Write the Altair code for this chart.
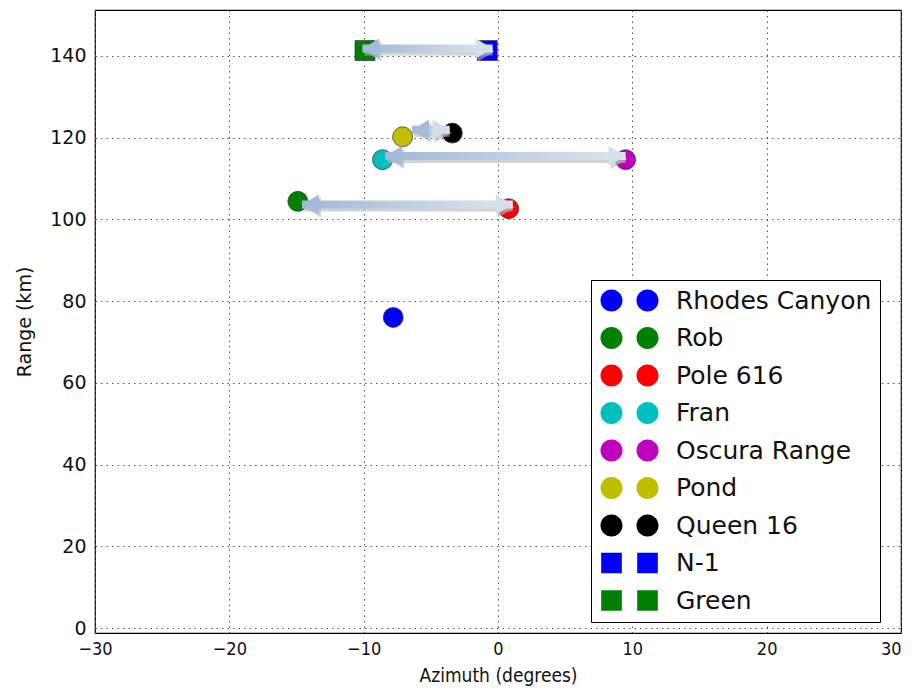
import altair as alt
import pandas as pd

# ---------------- data ----------------
names = ["Rhodes Canyon", "Rob", "Pole 616", "Fran", "Oscura Range",
         "Pond", "Queen 16", "N-1", "Green"]
azimuth = [-7.8, -14.9, 0.8, -8.6, 9.5, -7.1, -3.4, -0.8, -9.9]
range_km = [76.0, 104.4, 102.6, 114.6, 114.6, 120.2, 121.1, 141.3, 141.3]
marker_kind = ["circle"] * 7 + ["square"] * 2
colors = ["#0000ff", "#008000", "#ff0000", "#00bfbf", "#bf00bf",
          "#bfbf00", "#000000", "#0000ff", "#008000"]

arrow_from = ["Green", "Pond", "Fran", "Rob"]
arrow_to = ["N-1", "Queen 16", "Oscura Range", "Pole 616"]
arrow_start = [-10.1, -6.4, -8.4, -14.6]
arrow_end = [-0.4, -3.6, 9.5, 1.1]
arrow_y = [141.8, 121.9, 115.5, 103.6]

x_ticks = [-30, -20, -10, 0, 10, 20, 30]
y_ticks = [0, 20, 40, 60, 80, 100, 120, 140]

# ---------------- tables ----------------
pts = pd.DataFrame({"name": names, "az": azimuth, "rng": range_km,
                    "kind": marker_kind})
arr = pd.DataFrame({"src": arrow_from, "dst": arrow_to, "x1": arrow_start,
                    "x2": arrow_end, "y": arrow_y})

# ---------------- symbol paths (style) ----------------
def circle_path(cx, r):
    k = 0.5523
    return (f"M {cx + r} 0 C {cx + r} {k * r} {cx + k * r} {r} {cx} {r} "
            f"C {cx - k * r} {r} {cx - r} {k * r} {cx - r} 0 "
            f"C {cx - r} {-k * r} {cx - k * r} {-r} {cx} {-r} "
            f"C {cx + k * r} {-r} {cx + r} {-k * r} {cx + r} 0 Z")


def square_path(cx, h):
    return (f"M {cx - h} {-h} L {cx + h} {-h} L {cx + h} {h} "
            f"L {cx - h} {h} Z")


# legend symbol: nominal 24px box (unit = 12px); second marker 36px right
LEG_SIZE = 576
dbl_circle = circle_path(0, 0.917) + " " + circle_path(3.0, 0.917)
dbl_square = square_path(0, 0.86) + " " + square_path(3.0, 0.86)
legend_shapes = [dbl_circle if k == "circle" else dbl_square for k in marker_kind]

head_right = "M 0 0 L -1.7 -1 L -1.7 1 Z"
head_left = "M 0 0 L 1.7 -1 L 1.7 1 Z"

AXFONT = "DejaVu Sans Condensed, Liberation Sans Narrow, DejaVu Sans"

xscale = alt.Scale(domain=[-30, 30], nice=False, zero=False)
yscale = alt.Scale(domain=[0, 150], nice=False, zero=False)

xaxis = alt.Axis(title="Azimuth (degrees)", values=x_ticks, grid=True,
                 ticks=False, domain=False, labelPadding=7,
                 labelFont=AXFONT, labelFontSize=18, titleFont=AXFONT,
                 titleFontSize=19, titleFontWeight="normal", titlePadding=8,
                 labelColor="#111", titleColor="#111", labelFlush=False,
                 labelAlign={"condition": {"test": "datum.value == 30",
                                           "value": "right"},
                             "value": "center"})
yaxis = alt.Axis(title="Range (km)", values=y_ticks, grid=True, ticks=False,
                 domain=False, labelPadding=9, labelFont="DejaVu Sans",
                 labelFontSize=19, titleFont="DejaVu Sans", titleFontSize=19,
                 titleFontWeight="normal", titlePadding=15,
                 labelColor="#111", titleColor="#111", labelFlush=False)

base_x = alt.X("az:Q", scale=xscale, axis=xaxis)
base_y = alt.Y("rng:Q", scale=yscale, axis=yaxis)

points = alt.Chart(pts).mark_point(
    filled=True, size=400, stroke="#333", strokeWidth=0.7, opacity=1
).encode(
    x=base_x, y=base_y,
    color=alt.Color("name:N", scale=alt.Scale(domain=names, range=colors),
                    legend=None),
    shape=alt.Shape("name:N", scale=alt.Scale(
        domain=names, range=[("circle" if k == "circle" else "square")
                             for k in marker_kind]), legend=None),
)

legend = alt.Legend(title=None, orient="none", legendX=496, legendY=270,
                    strokeColor="black", fillColor="white", padding=8,
                    symbolSize=LEG_SIZE, symbolStrokeWidth=0.7,
                    symbolStrokeColor="#333", symbolOpacity=1,
                    labelFont="DejaVu Sans", labelFontSize=25,
                    labelColor="#111", labelOffset=52, rowPadding=11.5,
                    labelLimit=400, cornerRadius=0)

dummy = alt.Chart(pts).mark_point(
    filled=True, size=LEG_SIZE, opacity=0, stroke="#333", strokeWidth=0.7
).encode(
    x=alt.X("az:Q", scale=xscale, axis=xaxis),
    y=alt.Y("rng:Q", scale=yscale, axis=yaxis),
    color=alt.Color("name:N", scale=alt.Scale(domain=names, range=colors),
                    legend=legend),
    shape=alt.Shape("name:N", scale=alt.Scale(domain=names,
                                              range=legend_shapes),
                    legend=legend),
)

ax = alt.X("x1:Q", scale=xscale, axis=xaxis)
ay = alt.Y("y:Q", scale=yscale, axis=yaxis)

shadow_col = "#b5b5b5"
shaft_shadow = alt.Chart(arr).mark_bar(
    orient="horizontal", size=8, color=shadow_col, opacity=0.6,
    xOffset=2, yOffset=3
).encode(x=ax, x2="x2:Q", y=ay)
headr_shadow = alt.Chart(arr).mark_point(
    shape=head_right, size=400, filled=True, color=shadow_col, opacity=0.6,
    xOffset=2, yOffset=3
).encode(x=alt.X("x2:Q", scale=xscale, axis=xaxis), y=ay)
headl_shadow = alt.Chart(arr).mark_point(
    shape=head_left, size=400, filled=True, color=shadow_col, opacity=0.6,
    xOffset=2, yOffset=3
).encode(x=ax, y=ay)

grad = alt.Gradient(
    gradient="linear",
    stops=[alt.GradientStop(color="#9fb9d6", offset=0),
           alt.GradientStop(color="#dce5ef", offset=1)],
    x1=0, x2=1, y1=0, y2=0)

shaft = alt.Chart(arr).mark_bar(
    orient="horizontal", size=8, color=grad
).encode(x=ax, x2="x2:Q", y=ay)
head_r = alt.Chart(arr).mark_point(
    shape=head_right, size=400, filled=True, color="#d3dfeb", opacity=1
).encode(x=alt.X("x2:Q", scale=xscale, axis=xaxis), y=ay)
head_l = alt.Chart(arr).mark_point(
    shape=head_left, size=400, filled=True, color="#a3bcd8", opacity=1
).encode(x=ax, y=ay)

chart = alt.layer(
    points, dummy, shaft_shadow, headr_shadow, headl_shadow,
    shaft, head_r, head_l
).resolve_scale(
    color="independent", shape="independent"
).properties(
    width=806, height=623, autosize="none", background="white",
    padding={"left": 87, "top": 2, "right": 5, "bottom": 56},
).configure_view(
    stroke="black", strokeWidth=1.2
).configure_axis(
    gridColor="#555", gridDash=[1.5, 4], gridWidth=1, gridOpacity=1
)

chart.save("out.html", embed_options={"renderer": "svg", "actions": False})
